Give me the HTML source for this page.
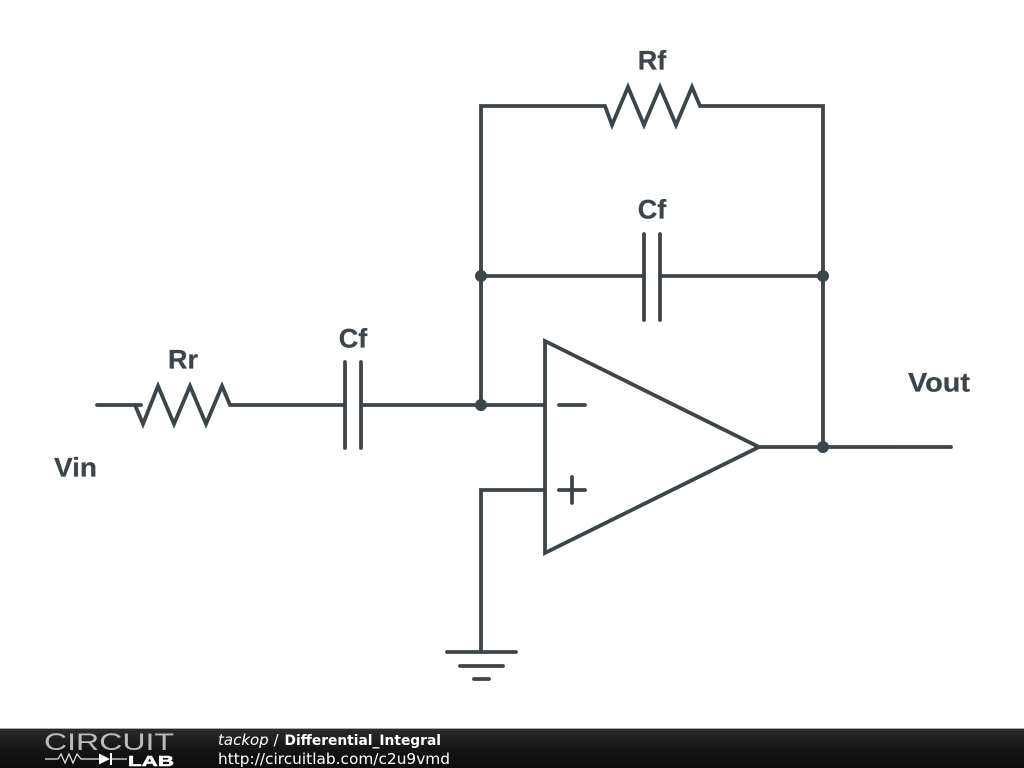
<!DOCTYPE html>
<html>
<head>
<meta charset="utf-8">
<style>
html,body{margin:0;padding:0;background:#fff;width:1024px;height:768px;overflow:hidden}
svg{display:block}
</style>
</head>
<body>
<svg width="1024" height="768" viewBox="0 0 1024 768" xmlns="http://www.w3.org/2000/svg">
<defs>
<linearGradient id="bar" x1="0" y1="0" x2="0" y2="1">
<stop offset="0" stop-color="#2c2c2c"/>
<stop offset="0.5" stop-color="#151515"/>
<stop offset="1" stop-color="#0c0c0c"/>
</linearGradient>
</defs>
<rect width="1024" height="768" fill="#fff"/>
<g fill="none" stroke="#3b464c" stroke-width="3.8" stroke-linecap="round" stroke-linejoin="miter">
<path d="M481 405V106H605L612 125L628 87L644 125L660 87L676 125L692 87L700 106H823V447"/>
<path d="M481 276H644M660 276H823"/>
<path d="M644 234V320M660 234V320"/>
<path d="M97 405H141"/>
<path d="M135 405L143 424L158 386L174 424L190 386L206 424L222 386L230 405H345"/>
<path d="M345 362V448M361 362V448M361 405H545"/>
<path d="M545 341V553L759 447Z"/>
<path d="M759 447H951"/>
<path d="M559 405H585M559 490H585M572 477V503"/>
<path d="M545 490H481V652"/>
<path d="M447 652H516M460 666H503M474 679H489"/>
</g>
<g fill="#3b464c">
<circle cx="481" cy="276" r="6"/>
<circle cx="823" cy="276" r="6"/>
<circle cx="481" cy="405" r="6"/>
<circle cx="823" cy="447" r="6"/>
</g>
<g font-family="'Liberation Sans',sans-serif" font-weight="700" font-size="27" fill="#3b464c" stroke="#3b464c" stroke-width="0.25">
<text x="652" y="69.5" text-anchor="middle">Rf</text>
<text x="652" y="218.5" text-anchor="middle">Cf</text>
<text x="353" y="347.5" text-anchor="middle">Cf</text>
<text x="183" y="368.5" text-anchor="middle">Rr</text>
<text x="908" y="391.5" textLength="62" lengthAdjust="spacingAndGlyphs">Vout</text>
<text x="54" y="476.5" textLength="43" lengthAdjust="spacingAndGlyphs">Vin</text>
</g>
<rect x="0" y="729" width="1024" height="39" fill="url(#bar)"/>
<rect x="0" y="728" width="1024" height="1" fill="#aaa"/>
<text x="44" y="750" font-family="'Liberation Sans',sans-serif" font-size="24" fill="#bbb" textLength="130" lengthAdjust="spacingAndGlyphs">CIRCUIT</text>
<text x="128" y="766" font-family="'Liberation Sans',sans-serif" font-weight="700" font-size="15" fill="#fff" stroke="#fff" stroke-width="0.5" textLength="46" lengthAdjust="spacingAndGlyphs">LAB</text>
<path d="M45 759H58L61 754L65 763L69 754L73 763L77 754L81 759H99M111 759H127" fill="none" stroke="#e8e8e8" stroke-width="1.2"/>
<path d="M99 753.5L110 759L99 764.5Z" fill="#fff"/>
<path d="M111 753V765" stroke="#fff" stroke-width="2"/>
<text x="218" y="745" font-family="'DejaVu Sans',sans-serif" font-size="15" fill="#fff" xml:space="preserve"><tspan font-style="italic">tackop</tspan> /</text>
<text x="284.5" y="745" font-family="'DejaVu Sans',sans-serif" font-size="14.5" font-weight="700" fill="#fff" textLength="156.5" lengthAdjust="spacingAndGlyphs">Differential_Integral</text>
<text x="218" y="764" font-family="'DejaVu Sans',sans-serif" font-size="15" fill="#fff" textLength="232" lengthAdjust="spacingAndGlyphs">http://circuitlab.com/c2u9vmd</text>
</svg>
</body>
</html>
